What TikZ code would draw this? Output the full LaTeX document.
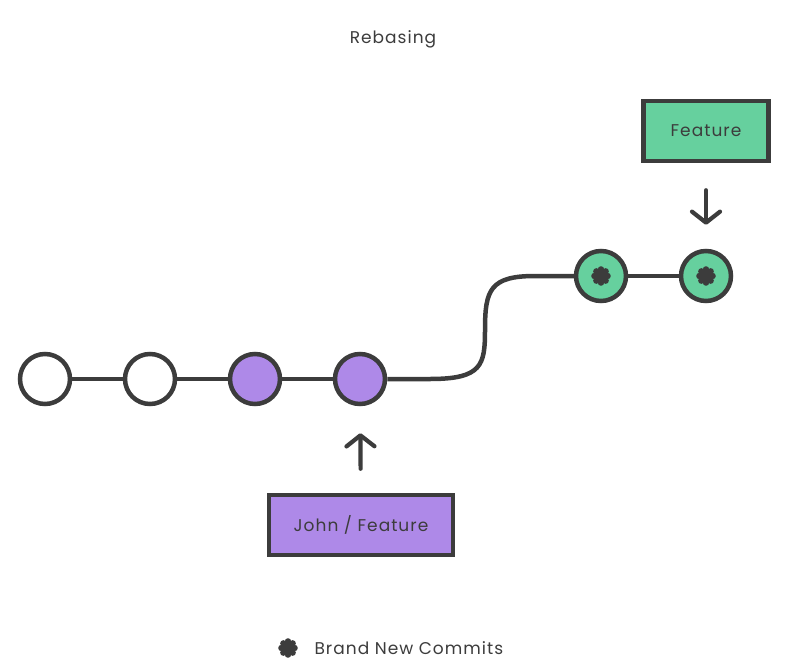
\documentclass[tikz,border=0pt]{standalone}
\usepackage{fontspec}
\setmainfont{Poppins}[LetterSpace=6]
\usepackage{xcolor}
\usetikzlibrary{arrows.meta,positioning}

\definecolor{ink}{HTML}{3C3C3C}
\definecolor{mauve}{HTML}{AE89E8}
\definecolor{mint}{HTML}{66D09E}

\begin{document}
\begin{tikzpicture}[x=1pt, y=-1pt,
    commit/.style={circle, draw=ink, line width=4.5pt, fill=white, minimum size=50pt, inner sep=0pt},
    mine/.style={commit, fill=mauve},
    fresh/.style={commit, fill=mint},
    branch/.style={rectangle, draw=ink, line width=4.5pt, minimum height=60pt, font=\fontsize{17}{20}\selectfont, text=ink},
    link/.style={draw=ink, line width=4.5pt},
    pointer/.style={-{Straight Barb[length=11pt, width=28pt, line cap=round, line join=round]}, draw=ink, line width=4.2pt, line cap=round},
    star/.pic={
        \fill[ink] (0,0) circle (5.8);
        \foreach \a in {0,45,...,315} \fill[ink] (\a:6.6) circle (3.2);
    }
]
    \useasboundingbox (0,0) rectangle (808,669);

    \node (title) [text=ink, font=\fontsize{17}{20}\selectfont] at (393,39) {Rebasing};

    % base history
    \node (c1) [commit] at (45,379) {};
    \node (c2) [commit] at (150,379) {};
    \node (c3) [mine] at (255,379) {};
    \node (c4) [mine] at (360,379) {};

    % replayed commits
    \node (n1) [fresh] at (601,276) {};
    \node (n2) [fresh] at (706,276) {};
    \pic at (n1) {star};
    \pic at (n2) {star};

    \node (fb) [branch, fill=mint, minimum width=125pt] at (706,131) {Feature};
    \node (jf) [branch, fill=mauve, minimum width=184pt] at (361,525) {John / Feature};

    \draw [link] (c1) -- (c2);
    \draw [link] (c2) -- (c3);
    \draw [link] (c3) -- (c4);
    \draw [link] (c4) -- (430,379) .. controls (482,379) and (485,365) .. (485,330)
        .. controls (485,290) and (490,276) .. (535,276) -- (n1);
    \draw [link] (n1) -- (n2);

    \draw [pointer, shorten <=24pt, shorten >=27pt] (jf) -- (c4);
    \draw [pointer, shorten <=27pt, shorten >=24pt] (fb) -- (n2);

    % legend
    \pic at (288,648) {star};
    \node (key) [anchor=west, text=ink, font=\fontsize{17}{20}\selectfont] at (311,648) {Brand New Commits};
\end{tikzpicture}
\end{document}
